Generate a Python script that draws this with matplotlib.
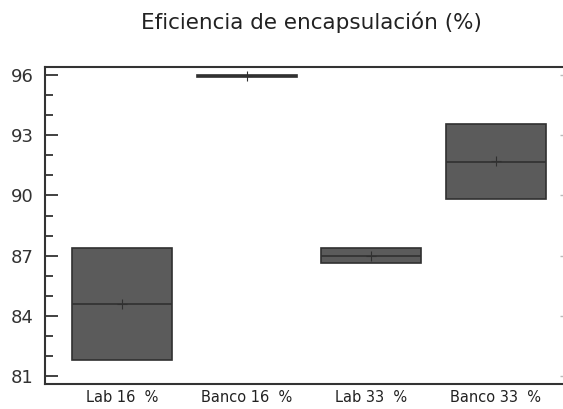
import matplotlib.pyplot as plt
import numpy as np

plt.rcParams['font.family'] = ['DejaVu Sans']

categories = ['Lab 16  %', 'Banco 16  %', 'Lab 33  %', 'Banco 33  %']
q1 = [81.8, 95.9, 86.65, 89.8]
med = [84.6, 95.95, 87.0, 91.65]
q3 = [87.4, 96.0, 87.4, 93.55]
mean = [84.6, 95.95, 87.0, 91.7]
yticks = [81, 84, 87, 90, 93, 96]

fig = plt.figure(figsize=(5.63, 4.09), dpi=100)
ax = fig.add_axes([0.08, 0.061, 0.92, 0.775])

stats = []
for i in range(len(categories)):
    stats.append(dict(med=med[i], q1=q1[i], q3=q3[i], whislo=q1[i], whishi=q3[i],
                      mean=mean[i], fliers=[], label=categories[i]))

ax.bxp(stats, positions=np.arange(len(categories)), widths=0.8, patch_artist=True,
       showmeans=True, showcaps=False,
       boxprops=dict(facecolor='#5b5b5b', edgecolor='#303030', linewidth=1.2),
       medianprops=dict(color='#303030', linewidth=1.2),
       whiskerprops=dict(linewidth=0),
       meanprops=dict(marker='+', markeredgecolor='#303030', markersize=7, markeredgewidth=0.8))

ax.set_xlim(-0.62, 3.54)
ax.set_ylim(80.6, 96.4)
ax.set_yticks(yticks)
ax.set_yticks(np.arange(81, 97, 1), minor=True)
ax.tick_params(axis='y', which='major', direction='in', length=9, width=1.3,
               labelsize=13, labelcolor='#333333', color='#333333', pad=8)
ax.tick_params(axis='y', which='minor', direction='in', length=6, width=1.3, color='#333333')
ax.tick_params(axis='x', length=0, labelsize=10.5, labelcolor='#222222', pad=4)

# faint right-hand ticks
ax2 = ax.twinx()
ax2.set_ylim(ax.get_ylim())
ax2.set_yticks(yticks)
ax2.set_yticklabels([])
ax2.tick_params(axis='y', direction='in', length=2, width=1, color='#bbbbbb')
for s in ax2.spines.values():
    s.set_visible(False)

ax.spines['right'].set_visible(False)
for s in ['left', 'top', 'bottom']:
    ax.spines[s].set_linewidth(1.5)
    ax.spines[s].set_color('#333333')

fig.text(0.553, 0.945, 'Eficiencia de encapsulación (%)', ha='center', va='center',
         fontsize=15.5, color='#222222')

fig.savefig('out.png', dpi=100)
